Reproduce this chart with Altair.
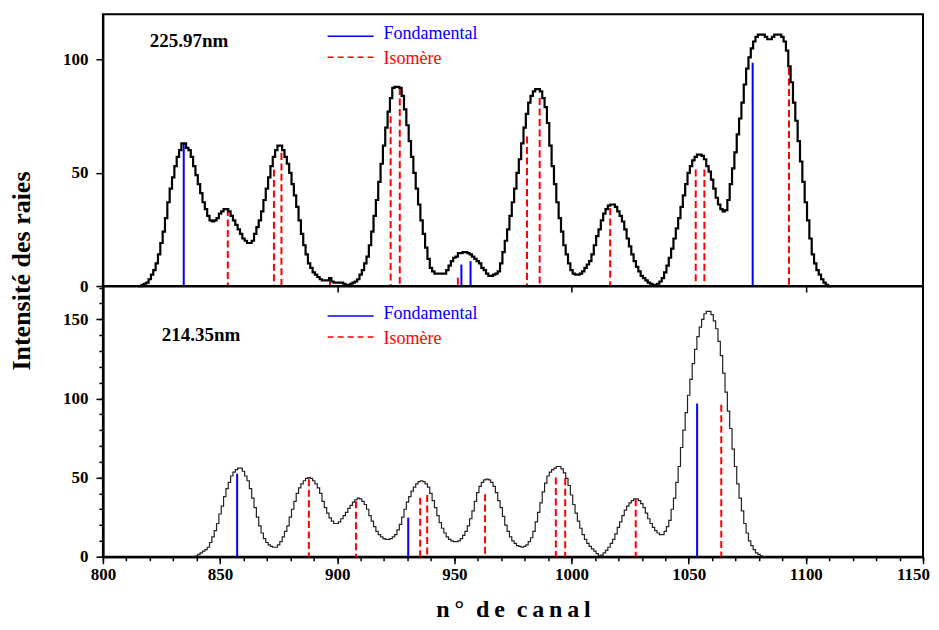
import altair as alt
import pandas as pd

# ---------------- data ----------------
top_start = 815
top_vals = [0, 0, 0.5, 1, 1.5, 3, 5, 7, 10, 14, 19, 24, 30, 37, 43, 48, 53, 57, 60, 63,
            63, 61, 60, 57, 53, 49, 45, 41, 37, 34, 31, 29, 28.5, 29, 30, 32, 33, 34, 34, 33,
            31, 29, 27, 25, 23, 21, 20, 19, 19, 20, 23, 26, 29, 33, 38, 43, 48, 53, 57, 60,
            62, 62, 60, 57, 54, 50, 45, 40, 35, 29, 23, 18, 14, 10, 8, 6, 5, 4, 3, 2.5,
            2.5, 2.5, 3.5, 2, 1.5, 1.5, 1.5, 1.5, 1, 0.5, 0.5, 1, 1.5, 2, 3, 5, 7, 10, 13, 18,
            24, 31, 38, 46, 54, 62, 70, 77, 83, 87.5, 88, 88, 87.5, 84, 78, 71, 64, 57, 50, 43,
            36, 29, 23, 17, 12, 8, 6.5, 5.5, 5.5, 5.5, 5.5, 5.5, 7, 9, 11, 12.5, 13, 14.5, 14.5, 15,
            15, 14.5, 14, 13, 12, 11, 10, 8, 7, 5.5, 4.5, 4.5, 5, 5.5, 6.5, 10, 15, 20, 25, 31,
            37, 43, 50, 56, 63, 70, 76, 81, 84, 86, 87, 87, 86, 83, 79, 72, 62, 53, 45, 37,
            30, 24, 18, 14, 10, 7, 5.5, 5, 5, 5.5, 6.5, 8, 9.5, 11, 14, 18, 22, 25, 29, 32,
            34, 35.5, 36, 36, 35, 33, 31, 28.5, 25, 21, 17.5, 14, 11, 8.5, 6.5, 4.5, 3.5, 2.5, 1.5, 1,
            0.5, 0.5, 1, 2, 3.5, 6, 9, 12.5, 16.5, 21, 25.5, 30, 35, 40, 45, 50, 53, 55.5, 57, 58,
            58, 57.5, 56, 53, 50.5, 47, 43, 39, 36, 34, 33, 33.5, 38, 45, 52, 59, 67, 74, 81, 89,
            96, 101, 105, 108, 110, 111, 111, 111, 110, 109, 109, 110, 111, 111, 111, 110, 108, 104, 97, 90,
            81, 73, 64, 55, 46, 37, 29, 21, 14, 10, 7, 5, 3, 1.5, 0.5, 0, 0]

bot_start = 838
bot_vals = [0, 0, 0.5, 1.5, 2.5, 3.5, 4.5, 6, 9, 12.5, 16.5, 21, 27, 32, 38, 43, 47, 51, 53.5, 55,
            56, 56, 54, 51, 48, 43, 37, 31, 25, 19.5, 15, 11.5, 9, 7.5, 6.5, 6, 6, 7.5, 9.5, 12.5,
            16, 19.5, 25, 30, 35, 40, 43.5, 46, 48, 49.5, 50, 49.5, 48, 46, 43.5, 40, 35, 31, 27.5, 24.5,
            22.5, 21, 21, 22, 24, 26, 28, 30.5, 32.5, 34.5, 36, 37, 36.5, 35, 33, 30, 26, 22.5, 19, 16,
            14, 12.5, 11.5, 11, 11, 11.5, 12.5, 14, 17, 20.5, 25, 30, 34.5, 38, 41.5, 44, 46, 47.5, 48, 47.5,
            46, 44, 40, 35.5, 31, 26, 21.5, 18, 15, 12.5, 11, 10, 9.5, 9.5, 10, 11.5, 13.5, 16, 19.5, 24,
            29, 35, 40.5, 44.5, 47, 48.5, 49, 48.5, 47, 44.5, 40.5, 35.5, 31, 25.5, 20, 16, 12.5, 10, 8.5, 7,
            6.5, 6, 6.5, 7.5, 9.5, 12, 16, 22, 28, 34, 41, 46.5, 51, 53.5, 55, 56, 57, 57, 55.5, 53,
            49.5, 45, 39, 33, 27.5, 22.5, 18, 14, 11, 8.5, 6.5, 5, 3.5, 2, 0.5, 1, 2.5, 4, 6, 8.5,
            11, 14.5, 18.5, 22, 26, 29.5, 32, 34, 35.5, 36.5, 36.5, 35.5, 33.5, 31, 27.5, 24, 21, 18.5, 16.5, 15,
            14, 14, 16, 19, 23, 30, 37, 47, 57, 69, 80, 91, 102, 112, 122, 131, 139, 145, 150, 153.5,
            155, 155, 153, 149, 144, 136, 127, 116, 104, 92, 81, 68, 57, 46, 37, 29, 21, 15, 10, 7,
            4.5, 2.5, 1.5, 0.5, 0, 0]

top_fond_x = [834.5, 953.0, 956.9, 1077.3]
top_fond_h = [63, 9.5, 11, 98.6]
top_iso_x = [853.3, 873.0, 876.2, 896.9, 922.8, 926.7, 951.5, 981.0, 986.4, 1016.5, 1053.0, 1056.7, 1092.8]
top_iso_h = [34, 51.5, 58.8, 2, 75, 87.5, 3.7, 66, 83, 34.5, 51.5, 51.5, 96.3]

bot_fond_x = [857.3, 930.3, 1053.6]
bot_fond_h = [52.5, 24.7, 96.8]
bot_iso_x = [887.9, 908.0, 935.4, 938.4, 963.1, 993.3, 997.3, 1027.4, 1063.9]
bot_iso_h = [49, 35, 37.3, 39, 39.5, 50, 49.6, 36.3, 96]

x_major_top = [900, 1000, 1100]
x_major = [800, 850, 900, 950, 1000, 1050, 1100, 1150]
x_minor = list(range(800, 1151, 10))
y_major_top = [0, 50, 100]
y_major_bot = [0, 50, 100, 150]
y_minor_bot = list(range(0, 171, 10))

labels = ["225.97nm", "214.35nm"]
legend_names = ["Fondamental", "Isomère"]
y_title = "Intensité des raies"
x_title = "\u2009".join("n°") + "\u2002" + "\u2009".join("de") + "\u2002" + "\u2009".join("canal")

# ---------------- styling ----------------
FONT = "Liberation Serif"
BLUE = "#0000ff"
RED = "#ff0000"
W = 821
H_TOP = 272
H_BOT = 271

xs = alt.Scale(domain=[800, 1150], nice=False, zero=False)
ys_top = alt.Scale(domain=[0, 120], nice=False)
ys_bot = alt.Scale(domain=[0, 171], nice=False)


def panel(start, vals, fx, fh, ix, ih, ys, h, hist_width, hist_color, x_axes, y_axes,
          label, lab_pos, leg_pos, extra=None):
    hist = pd.DataFrame({"c": list(range(start, start + len(vals))), "v": vals})
    fond = pd.DataFrame({"c": fx, "h": fh})
    iso = pd.DataFrame({"c": ix, "h": ih})

    blue = alt.Chart(fond).mark_rule(color=BLUE, strokeWidth=2).encode(
        x=alt.X("c:Q", scale=xs, axis=x_axes[1]),
        y=alt.Y("h:Q", scale=ys, axis=y_axes[1]),
        y2=alt.datum(0),
    )
    red = alt.Chart(iso).mark_rule(color=RED, strokeWidth=2, strokeDash=[7, 3.5]).encode(
        x=alt.X("c:Q", scale=xs, axis=None),
        y=alt.Y("h:Q", scale=ys, axis=None),
        y2=alt.datum(0),
    )
    line = alt.Chart(hist).mark_line(interpolate="step", color=hist_color,
                                     strokeWidth=hist_width).encode(
        x=alt.X("c:Q", scale=xs, axis=x_axes[0]),
        y=alt.Y("v:Q", scale=ys, axis=y_axes[0]),
    )
    lx, ly = lab_pos
    lab = alt.Chart(pd.DataFrame({"t": [label]})).mark_text(
        font=FONT, fontSize=19, fontWeight="bold", align="left", baseline="alphabetic",
        color="black").encode(text="t:N", x=alt.value(lx), y=alt.value(ly))
    (bl_y, bt_y, rl_y, rt_y) = leg_pos
    leg_b = alt.Chart(pd.DataFrame({"a": [0]})).mark_rule(color=BLUE, strokeWidth=1.5).encode(
        x=alt.value(225), x2=alt.value(271), y=alt.value(bl_y))
    leg_r = alt.Chart(pd.DataFrame({"a": [0]})).mark_rule(color=RED, strokeWidth=1.5,
                                                        strokeDash=[6, 4]).encode(
        x=alt.value(225), x2=alt.value(271), y=alt.value(rl_y))
    leg_bt = alt.Chart(pd.DataFrame({"t": [legend_names[0]]})).mark_text(
        font=FONT, fontSize=18, align="left", baseline="alphabetic", color=BLUE).encode(
        text="t:N", x=alt.value(281), y=alt.value(bt_y))
    leg_rt = alt.Chart(pd.DataFrame({"t": [legend_names[1]]})).mark_text(
        font=FONT, fontSize=18, align="left", baseline="alphabetic", color=RED).encode(
        text="t:N", x=alt.value(281), y=alt.value(rt_y))
    layers = [blue, red, line, lab, leg_b, leg_r, leg_bt, leg_rt]
    if extra is not None:
        layers.append(extra)
    return alt.layer(*layers).resolve_axis(x="independent", y="independent").properties(
        width=W, height=h)


tick_common = dict(labelFont=FONT, labelFontWeight="bold", labelFontSize=17,
                   labelColor="black", tickColor="black", domainColor="black",
                   domainWidth=2, tickWidth=1.5, grid=False)

top_x_major = alt.Axis(orient="bottom", values=x_major_top, labels=False, tickSize=6,
                       title=None, **tick_common)
top_y_major = alt.Axis(orient="left", values=y_major_top, tickSize=7, labelPadding=8,
                       format="d", title=None, **tick_common)

bot_x_major = alt.Axis(orient="bottom", values=x_major, tickSize=7, labelPadding=3,
                       format="d", labelFlush=False,
                       labelOffset={"condition": {"test": "datum.value == 1150", "value": -10},
                                    "value": 0},
                       title=x_title, titleFont=FONT, titleFontSize=24, titleFontWeight="bold",
                       titleColor="black", titlePadding=15, **tick_common)
bot_x_minor = alt.Axis(orient="bottom", values=x_minor, tickSize=4, labels=False,
                       title=None, **tick_common)
bot_y_major = alt.Axis(orient="left", values=y_major_bot, tickSize=7, labelPadding=8,
                       format="d", title=None, **tick_common)
bot_y_minor = alt.Axis(orient="left", values=y_minor_bot, tickSize=4, labels=False,
                       title=None, **tick_common)

ytitle = alt.Chart(pd.DataFrame({"t": [y_title]})).mark_text(
    font=FONT, fontSize=26, fontWeight="bold", angle=270, align="center",
    baseline="middle", color="black").encode(
    text="t:N", x=alt.value(-81), y=alt.value(257))

top = panel(top_start, top_vals, top_fond_x, top_fond_h, top_iso_x, top_iso_h,
            ys_top, H_TOP, 2.2, "black", [top_x_major, None], [top_y_major, None],
            labels[0], (47, 33), (22, 25, 43, 50), extra=ytitle)
bottom = panel(bot_start, bot_vals, bot_fond_x, bot_fond_h, bot_iso_x, bot_iso_h,
               ys_bot, H_BOT, 1.2, "#222222", [bot_x_major, bot_x_minor],
               [bot_y_major, bot_y_minor], labels[1], (59, 55), (30, 33, 51, 58))

chart = alt.vconcat(top, bottom, spacing=0, bounds="flush").configure_view(
    stroke="black", strokeWidth=2).properties(
    padding={"left": 0, "top": 5, "right": 0, "bottom": 0}, background="white")

chart.save("out.html", embed_options={"renderer": "svg", "actions": False})
